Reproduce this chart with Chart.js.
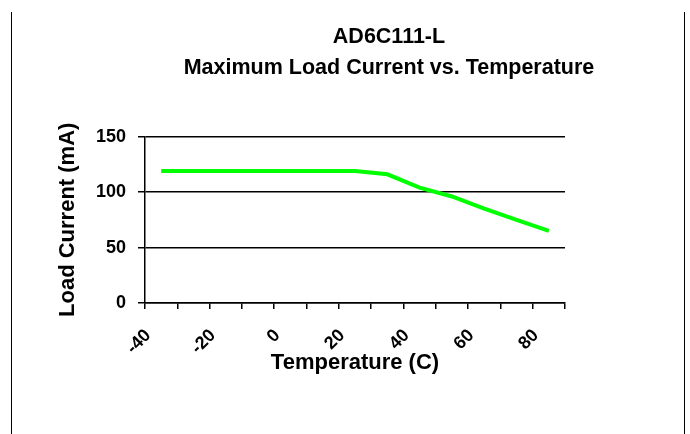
<!DOCTYPE html>
<html>
<head>
<meta charset="utf-8">
<script src="https://cdn.jsdelivr.net/npm/chart.js@4"></script>
<style>
    html, body { margin: 0; padding: 0; background: #fff; overflow: hidden; }
    #wrap { position: relative; width: 778px; height: 434px; }
    #frame {
        position: absolute; left: 11px; top: 12px; width: 672px; height: 430px;
        border-left: 1px solid #000; border-right: 1px solid #000; pointer-events: none;
    }
</style>
</head>
<body>
<div id="wrap">
    <canvas id="chart"></canvas>
    <div id="frame"></div>
</div>
<script>
// values
const temperatures = ['-40', '-30', '-20', '-10', '0', '10', '20', '30', '40', '50', '60', '70', '80'];
const loadCurrent = [119, 119, 119, 119, 119, 119, 119, 116, 104, 96, 85, 75, 65];
const yTicks = [0, 50, 100, 150];

Chart.defaults.font.family = '"Liberation Sans", Arial, sans-serif';
Chart.defaults.font.weight = 'bold';
Chart.defaults.color = '#000';

const ctx = document.getElementById('chart');

const loadChart = new Chart(ctx, {
    type: 'line',
    data: {
        labels: temperatures,
        datasets: [{
            label: 'Load Current',
            data: loadCurrent,
            yAxisID: 'y',
            borderColor: '#00ff00',
            borderWidth: 4,
            pointRadius: 0,
            tension: 0,
            fill: false
        }]
    },
    options: {
        responsive: true,
        maintainAspectRatio: false,
        animation: false,
        layout: { padding: 0 },
        plugins: {
            legend: { display: false },
            tooltip: { enabled: false },
            title: {
                display: true,
                text: 'AD6C111-L',
                font: { size: 21.5, weight: 'bold' },
                padding: { top: 24, bottom: 0 }
            },
            subtitle: {
                display: true,
                text: 'Maximum Load Current vs. Temperature',
                color: '#000',
                font: { size: 21.5, weight: 'bold' },
                padding: { top: 5, bottom: 56 }
            }
        },
        scales: {
            x: {
                type: 'category',
                offset: true,
                grid: {
                    display: true,
                    offset: true,
                    drawOnChartArea: false,
                    drawTicks: true,
                    tickLength: 6,
                    color: '#000',
                    lineWidth: 1.5
                },
                border: { display: true, color: '#000', width: 1.5 },
                ticks: {
                    autoSkip: false,
                    minRotation: 45,
                    maxRotation: 45,
                    labelOffset: -13,
                    padding: 16,
                    font: { size: 18, weight: 'bold' },
                    callback: function(value, index) {
                        return index % 2 === 0 ? temperatures[index] : '';
                    }
                },
                title: {
                    display: true,
                    text: 'Temperature (C)',
                    font: { size: 22, weight: 'bold' },
                    padding: { top: 0, bottom: 58 }
                },
                afterFit: function(scale) {
                    scale.height = 131;
                }
            },
            y: {
                type: 'linear',
                position: 'left',
                min: 0,
                max: 150,
                afterBuildTicks: function(scale) {
                    scale.ticks = yTicks.map(v => ({ value: v }));
                },
                grid: {
                    color: '#000',
                    lineWidth: 1.5,
                    drawTicks: true,
                    tickLength: 7
                },
                border: { display: true, color: '#000', width: 1.5 },
                ticks: {
                    padding: 12,
                    font: { size: 18, weight: 'bold' }
                },
                title: {
                    display: true,
                    text: 'Load Current (mA)',
                    font: { size: 22, weight: 'bold' },
                    padding: { top: 55, bottom: 0 }
                },
                afterFit: function(scale) {
                    scale.width = 145;
                }
            },
            pad: {
                type: 'linear',
                position: 'right',
                display: true,
                grid: { display: false },
                border: { display: false },
                ticks: { display: false },
                afterFit: function(scale) {
                    scale.width = 213;
                }
            }
        }
    }
});
</script>
</body>
</html>
